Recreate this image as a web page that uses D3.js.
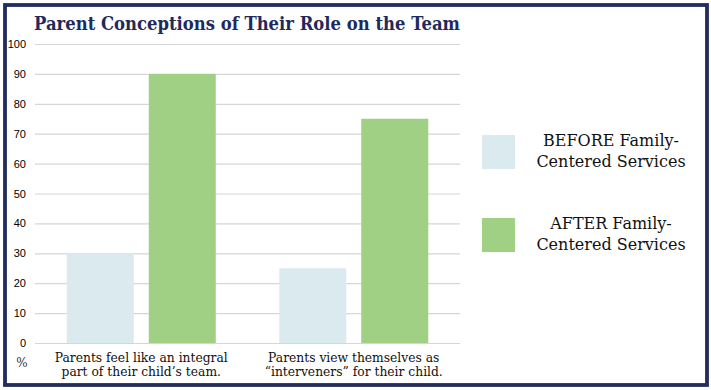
<!DOCTYPE html>
<html><head><meta charset="utf-8">
<script src="https://cdn.jsdelivr.net/npm/d3@7"></script>
<style>html,body{margin:0;padding:0;background:#fff;}svg{display:block;}</style>
</head><body>
<svg id="chart" width="711" height="390"></svg>
<script>
const title = "Parent Conceptions of Their Role on the Team";
const categories = ["Parents feel like an integral|part of their child\u2019s team.", "Parents view themselves as|\u201cinterveners\u201d for their child."];
const seriesNames = ["BEFORE Family-|Centered Services", "AFTER Family-|Centered Services"];
const beforeValues = [30, 25];
const afterValues = [90, 75];
const yTicks = [0, 10, 20, 30, 40, 50, 60, 70, 80, 90, 100];
const colors = ["#dbeaef", "#a0d084"];

const svg = d3.select("#chart");
const navy = "#232c5e";

svg.append("rect").attr("x", 5).attr("y", 5).attr("width", 702).attr("height", 380)
  .attr("fill", "#fff").attr("stroke", navy).attr("stroke-width", 3.8);

svg.append("text").attr("x", 34).attr("y", 30).text(title)
  .attr("font-family", "DejaVu Serif").attr("font-weight", "bold").attr("font-size", 18.5)
  .attr("fill", "#1f2a5c").attr("textLength", 426).attr("lengthAdjust", "spacingAndGlyphs");

const y = d3.scaleLinear().domain([0, 100]).range([343, 44]);
const x0 = d3.scaleBand().domain(d3.range(categories.length)).range([35, 460]).padding(0);
const x1 = d3.scaleBand().domain([0, 1]).range([0, x0.bandwidth()]).paddingInner(0.183).paddingOuter(0.387);

const g = svg.append("g");
g.selectAll("line.grid").data(yTicks).join("line")
  .attr("x1", 35).attr("x2", 460).attr("y1", d => y(d) + 0.5).attr("y2", d => y(d) + 0.5)
  .attr("stroke", "#d6d6d6").attr("stroke-width", 1.2);

const yAxis = d3.axisLeft(y).tickValues(yTicks).tickSize(0).tickPadding(0);
const ya = svg.append("g").attr("transform", "translate(26,0)").call(yAxis);
ya.select(".domain").remove();
ya.selectAll("text").attr("font-family", "Liberation Sans, Arial").attr("font-size", 11).attr("fill", "#000");

svg.append("text").attr("x", 22).attr("y", 367).attr("text-anchor", "middle").text("%")
  .attr("font-family", "DejaVu Serif").attr("font-size", 12).attr("fill", "#333");

const data = categories.map((c, i) => [beforeValues[i], afterValues[i]]);
const groups = g.selectAll("g.grp").data(data).join("g").attr("transform", (d, i) => `translate(${x0(i)},0)`);
groups.selectAll("rect").data(d => d.map((v, s) => ({v, s}))).join("rect")
  .attr("x", d => x1(d.s)).attr("width", x1.bandwidth())
  .attr("y", d => y(d.v)).attr("height", d => y(0) - y(d.v))
  .attr("fill", d => colors[d.s]);

categories.forEach((c, i) => {
  const lines = c.split("|");
  const t = svg.append("text").attr("text-anchor", "middle")
    .attr("font-family", "DejaVu Serif").attr("font-size", 12.3).attr("fill", "#111");
  lines.forEach((l, j) => {
    t.append("tspan").attr("x", x0(i) + x0.bandwidth() / 2).attr("y", 362 + j * 14).text(l);
  });
});

const legY = [135, 218];
seriesNames.forEach((s, i) => {
  svg.append("rect").attr("x", 482).attr("y", legY[i]).attr("width", 33).attr("height", 34).attr("fill", colors[i]);
  const t = svg.append("text").attr("text-anchor", "middle")
    .attr("font-family", "DejaVu Serif").attr("font-size", 16).attr("fill", "#111");
  s.split("|").forEach((l, j) => {
    t.append("tspan").attr("x", 611).attr("y", legY[i] + 11 + j * 20.5).text(l);
  });
});
</script>
</body></html>
